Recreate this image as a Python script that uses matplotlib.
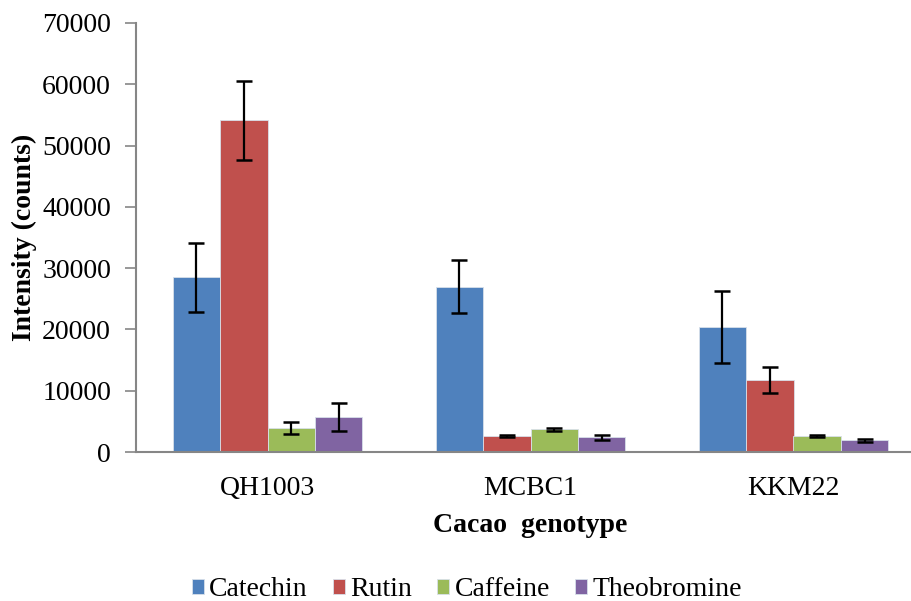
import matplotlib
matplotlib.use("Agg")
import matplotlib.pyplot as plt
from matplotlib.font_manager import FontProperties
import numpy as np

genotypes = ["QH1003", "MCBC1", "KKM22"]
compounds = ["Catechin", "Rutin", "Caffeine", "Theobromine"]
catechin = [28500, 27000, 20400]
rutin = [54100, 2600, 11700]
caffeine = [3900, 3700, 2600]
theobromine = [5700, 2400, 1900]
catechin_err = [5600, 4300, 5800]
rutin_err = [6500, 150, 2100]
caffeine_err = [1000, 200, 150]
theobromine_err = [2300, 400, 300]
colors = ["#4F81BD", "#C0504D", "#9BBB59", "#8064A2"]

plt.rcParams['font.family'] = ['Liberation Serif', 'DejaVu Serif']

fig = plt.figure(figsize=(9.11, 6.01), dpi=100)
ax = fig.add_axes([136/911, 1-452/601, 789/911, (452-23)/601])

series = [catechin, rutin, caffeine, theobromine]
errs = [catechin_err, rutin_err, caffeine_err, theobromine_err]
x = np.arange(len(genotypes))
w = 0.18
for i, (vals, e, c, name) in enumerate(zip(series, errs, colors, compounds)):
    pos = x + (i - 1.5) * w
    ax.bar(pos, vals, width=w, color=c, edgecolor="#d8e0ea", linewidth=0.6, label=name, zorder=2)
    ax.errorbar(pos, vals, yerr=e, fmt="none", ecolor="black", elinewidth=1.6,
                capsize=5.5, capthick=1.8, zorder=3)

ax.set_xlim(-0.5, 2.5)
ax.set_ylim(0, 70000)
ax.set_yticks(np.arange(0, 70001, 10000))
ax.set_xticks(x)
ax.set_xticklabels(genotypes)
ax.tick_params(axis="x", length=0, labelsize=20, pad=17)
ax.tick_params(axis="y", length=8, width=1.2, color="#868686", labelsize=20, pad=10)
for s in ["top", "right"]:
    ax.spines[s].set_visible(False)
for s in ["left", "bottom"]:
    ax.spines[s].set_color("#868686")
    ax.spines[s].set_linewidth(1.5)

ax.set_ylabel("Intensity (counts)", fontsize=20, fontweight="bold", labelpad=4)
ax.set_xlabel("Cacao  genotype", fontsize=20, fontweight="bold", labelpad=9)

handles, labels = ax.get_legend_handles_labels()
fp = FontProperties(family="Liberation Serif", size=20)
leg = fig.legend(handles, labels, loc="center", bbox_to_anchor=(467/911, 1-590/601), ncol=4,
                 frameon=False, prop=fp, handlelength=0.43, handleheight=0.43,
                 handletextpad=0.2, columnspacing=0.9, borderpad=0.2)

fig.savefig("out.png", dpi=100)
